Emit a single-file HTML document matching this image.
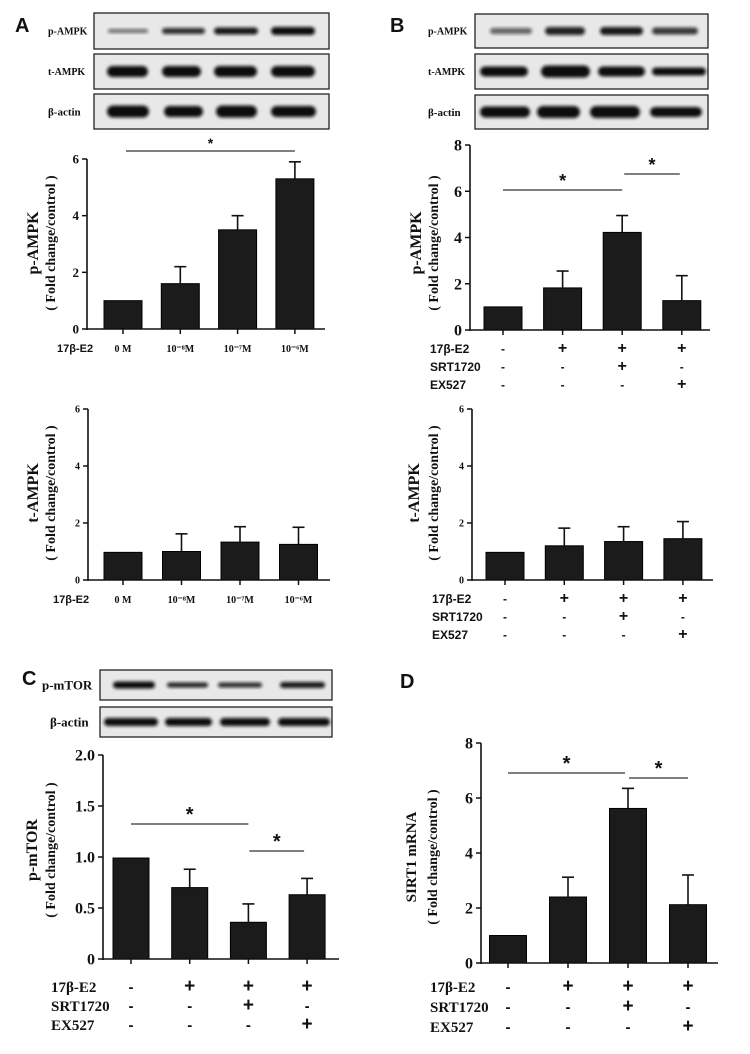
<!DOCTYPE html>
<html><head><meta charset="utf-8">
<style>
html,body{margin:0;padding:0;background:#fff;}
svg{display:block;}
text{font-family:"Liberation Serif",serif;font-weight:bold;fill:#111;}
.sans{font-family:"Liberation Sans",sans-serif;}
</style></head>
<body>
<svg id="fig" width="750" height="1054" viewBox="0 0 750 1054" xmlns="http://www.w3.org/2000/svg">
<defs>
<filter id="blur" x="-20%" y="-50%" width="140%" height="200%"><feGaussianBlur stdDeviation="1.6"/></filter>
</defs>
<text class="sans" x="15" y="32" font-size="20">A</text>
<text class="sans" x="390" y="32" font-size="20">B</text>
<text class="sans" x="22" y="685" font-size="20">C</text>
<text class="sans" x="400" y="688" font-size="20">D</text>
</svg>
<script>
// ---- data ----
const catsA = ['0 M','10\u207B\u2078M','10\u207B\u2077M','10\u207B\u2076M'];
const pAmpkA = [1.0, 1.6, 3.5, 5.3];
const pAmpkAErr = [0, 0.6, 0.5, 0.6];
const tAmpkA = [0.97, 1.0, 1.33, 1.25];
const tAmpkAErr = [0, 0.62, 0.54, 0.6];
const e2Row = ['-','+','+','+'];
const srtRow = ['-','-','+','-'];
const exRow = ['-','-','-','+'];
const pAmpkB = [1.0, 1.82, 4.22, 1.27];
const pAmpkBErr = [0, 0.73, 0.73, 1.08];
const tAmpkB = [0.97, 1.2, 1.35, 1.45];
const tAmpkBErr = [0, 0.62, 0.52, 0.6];
const pmTOR = [0.99, 0.70, 0.36, 0.63];
const pmTORErr = [0, 0.18, 0.18, 0.16];
const sirt1 = [1.0, 2.4, 5.62, 2.12];
const sirt1Err = [0, 0.72, 0.73, 1.08];
const ticks6 = [0,2,4,6];
const ticks8 = [0,2,4,6,8];
const ticksC = [0,0.5,1.0,1.5,2.0];
const ticksCLabels = ['0','0.5','1.0','1.5','2.0'];

const NS = 'http://www.w3.org/2000/svg';
const fig = document.getElementById('fig');
function mk(tag, attrs, parent){
  const e = document.createElementNS(NS, tag);
  for (const k in attrs) e.setAttribute(k, attrs[k]);
  (parent||fig).appendChild(e);
  return e;
}
function txt(x,y,s,size,anchor,cls,parent){
  const t = mk('text',{x:x,y:y,'font-size':size,'text-anchor':anchor||'start'},parent);
  if(cls) t.setAttribute('class',cls);
  t.textContent = s;
  return t;
}

function chart(name, cfg){
  const g = mk('g',{});
  
  
  const yScale = v => cfg.y0 - (v / cfg.max) * (cfg.y0 - cfg.yTop);
  const xScale = i => cfg.c0 + i * cfg.step;
  cfg.values.forEach((v,i)=>{
    const cx = xScale(i);
    const r = mk('rect',{x:cx-cfg.bw/2, y:yScale(v), width:cfg.bw, height:cfg.y0-yScale(v), fill:'#1b1b1b', stroke:'#000','stroke-width':1},g);
    
    
    const e = cfg.errs[i];
    if (e > 0){
      const yt = yScale(v+e);
      const l = mk('line',{x1:cx,x2:cx,y1:yScale(v),y2:yt,stroke:'#111','stroke-width':1.6},g);
      
      
      mk('line',{x1:cx-6,x2:cx+6,y1:yt,y2:yt,stroke:'#111','stroke-width':1.6},g);
    }
    mk('line',{x1:cx,x2:cx,y1:cfg.y0,y2:cfg.y0+5,stroke:'#111','stroke-width':1.5},g);
  });
  const ya = mk('line',{x1:cfg.x0,x2:cfg.x0,y1:cfg.yTop,y2:cfg.y0+1,stroke:'#111','stroke-width':1.6},g);
  
  
  const xa = mk('line',{x1:cfg.x0,x2:cfg.xEnd,y1:cfg.y0,y2:cfg.y0,stroke:'#111','stroke-width':1.6},g);
  
  
  cfg.ticks.forEach((t,i)=>{
    const y = yScale(t);
    mk('line',{x1:cfg.x0-5,x2:cfg.x0,y1:y,y2:y,stroke:'#111','stroke-width':1.5},g);
    const tl = txt(cfg.x0-8, y+cfg.tfs*0.35, cfg.tickLabels ? cfg.tickLabels[i] : String(t), cfg.tfs, 'end', null, g);
    
    
  });
  const t1 = txt(0,0,cfg.title,cfg.titleFs,'middle',null,g);
  t1.setAttribute('transform','translate('+cfg.tx1+','+cfg.tcy+') rotate(-90)');
  
  
  const t2 = txt(0,0,'( Fold change/control )',cfg.subFs,'middle',null,g);
  t2.setAttribute('transform','translate('+cfg.tx2+','+cfg.tcy+') rotate(-90)');
  
  
  if (cfg.rows){
    cfg.rows.forEach((row,ri)=>{
      const y = cfg.rowY[ri];
      const lab = txt(cfg.rowLabelX, y, cfg.rowNames[ri], cfg.rowFs, 'start', cfg.rowCls, g);
      
      
      row.forEach((s,i)=>{
        const sl = txt(xScale(i)+(cfg.signDx||0), y, s==='-'?'-':'+', s==='-'?cfg.rowFs:cfg.rowFs+4, 'middle', 'sans', g);
        
        
      });
    });
  }
  if (cfg.cats){
    const lab = txt(cfg.rowLabelX, cfg.rowY[0], '17β-E2', cfg.rowFs, 'start', cfg.rowCls, g);
    
    
    cfg.cats.forEach((c,i)=>{
      const cl = txt(xScale(i), cfg.rowY[0], c, cfg.rowFs-1, 'middle', null, g);
      
      
    });
  }
  (cfg.sig||[]).forEach(s=>{
    const y = s.y;
    const ln = mk('line',{x1:xScale(s.a)+(s.da||0),x2:xScale(s.b)+(s.db||0),y1:y,y2:y,stroke:'#333','stroke-width':1.2},g);
    
    
    const st = txt((xScale(s.a)+(s.da||0)+xScale(s.b)+(s.db||0))/2, y-3, '*', cfg.starFs, 'middle', 'sans', g);
    
    
  });
}

function blot(name, x, y, w, h, label, lx, lfs, bands){
  const g = mk('g',{});
  
  
  mk('rect',{x:x,y:y,width:w,height:h,fill:'#e8e8e8',stroke:'#222','stroke-width':1.3},g);
  bands.forEach(b=>{
    const e = mk('rect',{x:b[0],y:y+h/2-b[2]/2,width:b[1]-b[0],height:b[2],rx:b[2]/2,fill:'#111',opacity:b[3],filter:'url(#blur)'},g);
    
    
  });
  txt(lx, y+h/2+lfs*0.35, label, lfs, 'start', null, g);
}

blot('blot-a-p-ampk',94,13,235,36,'p-AMPK',48,10,[[108,148,4,0.55],[162,205,6,0.85],[214,258,7,0.95],[271,315,8,1]]);
blot('blot-a-t-ampk',94,54,235,35,'t-AMPK',48,10,[[107,148,11,1],[162,201,11,1],[214,257,11,1],[271,315,11,1]]);
blot('blot-a-actin',94,94,235,35,'β-actin',48,11,[[107,149,12,1],[164,203,11,1],[216,257,12,1],[271,316,11,1]]);
blot('blot-b-p-ampk',475,14,233,34,'p-AMPK',428,10,[[490,532,6,0.6],[545,585,8,0.9],[600,643,8,0.95],[652,698,7,0.8]]);
blot('blot-b-t-ampk',475,54,233,35,'t-AMPK',428,10,[[480,528,10,1],[541,590,12,1],[598,645,10,1],[652,706,8,1]]);
blot('blot-b-actin',475,95,233,34,'β-actin',428,11,[[480,530,11,1],[537,580,12,1],[590,640,12,1],[650,702,10,1]]);
blot('blot-c-p-mtor',100,670,232,30,'p-mTOR',42,13,[[113,155,7,1],[167,208,5,0.9],[218,262,5,0.85],[280,325,6,0.95]]);
blot('blot-c-actin',100,707,232,30,'β-actin',50,13,[[104,158,8,1],[165,212,8,1],[220,270,8,1],[278,330,8,1]]);

chart('chart-a-p-ampk',{x0:87,y0:329,yTop:159,max:6,ticks:ticks6,tfs:13,xEnd:325,c0:123,step:57.3,bw:38,
  values:pAmpkA,errs:pAmpkAErr,title:'p-AMPK',titleFs:16,subFs:14,tx1:38,tx2:55,tcy:243,
  cats:catsA,rowY:[352],rowLabelX:57,rowFs:11,rowCls:'sans',
  sig:[{a:0,b:3,y:151,da:3}],starFs:14});
chart('chart-a-t-ampk',{x0:88,y0:580,yTop:409,max:6,ticks:ticks6,tfs:10,xEnd:330,c0:123,step:58.5,bw:38,
  values:tAmpkA,errs:tAmpkAErr,title:'t-AMPK',titleFs:16,subFs:14,tx1:38,tx2:55,tcy:493,
  cats:catsA,rowY:[603],rowLabelX:53,rowFs:11,rowCls:'sans'});
chart('chart-b-p-ampk',{x0:470,y0:330,yTop:145,max:8,ticks:ticks8,tfs:16,xEnd:710,c0:503,step:59.6,bw:38,
  values:pAmpkB,errs:pAmpkBErr,title:'p-AMPK',titleFs:16,subFs:14,tx1:421,tx2:438,tcy:243,
  rows:[e2Row,srtRow,exRow],rowNames:['17β-E2','SRT1720','EX527'],rowY:[353,371,389],rowLabelX:430,rowFs:12,rowCls:'sans',
  sig:[{a:0,b:2,y:190},{a:2,b:3,y:174,da:2,db:-2}],starFs:18});
chart('chart-b-t-ampk',{x0:472,y0:580,yTop:409,max:6,ticks:ticks6,tfs:10,xEnd:713,c0:505,step:59.3,bw:38,
  values:tAmpkB,errs:tAmpkBErr,title:'t-AMPK',titleFs:16,subFs:14,tx1:419,tx2:438,tcy:493,
  rows:[e2Row,srtRow,exRow],rowNames:['17β-E2','SRT1720','EX527'],rowY:[603,621,639],rowLabelX:432,rowFs:12,rowCls:'sans'});
chart('chart-c-p-mtor',{x0:103,y0:959,yTop:755,max:2,ticks:ticksC,tickLabels:ticksCLabels,tfs:16,xEnd:339,c0:131,step:58.7,bw:36,
  values:pmTOR,errs:pmTORErr,title:'p-mTOR',titleFs:16,subFs:14,tx1:37,tx2:55,tcy:850,
  rows:[e2Row,srtRow,exRow],rowNames:['17β-E2','SRT1720','EX527'],rowY:[992,1011,1030],rowLabelX:51,rowFs:15,rowCls:null,
  sig:[{a:0,b:2,y:824},{a:2,b:3,y:851,da:1,db:-3}],starFs:20});
chart('chart-d-sirt1',{x0:481,y0:963,yTop:743,max:8,ticks:ticks8,tfs:16,xEnd:718,c0:508,step:60,bw:37,
  values:sirt1,errs:sirt1Err,title:'SIRT1 mRNA',titleFs:15,subFs:14,tx1:416,tx2:437,tcy:857,
  rows:[e2Row,srtRow,exRow],rowNames:['17β-E2','SRT1720','EX527'],rowY:[992,1012,1032],rowLabelX:430,rowFs:15,rowCls:null,
  sig:[{a:0,b:2,y:773,db:-3},{a:2,b:3,y:778,da:1}],starFs:20});
</script>
</body></html>
